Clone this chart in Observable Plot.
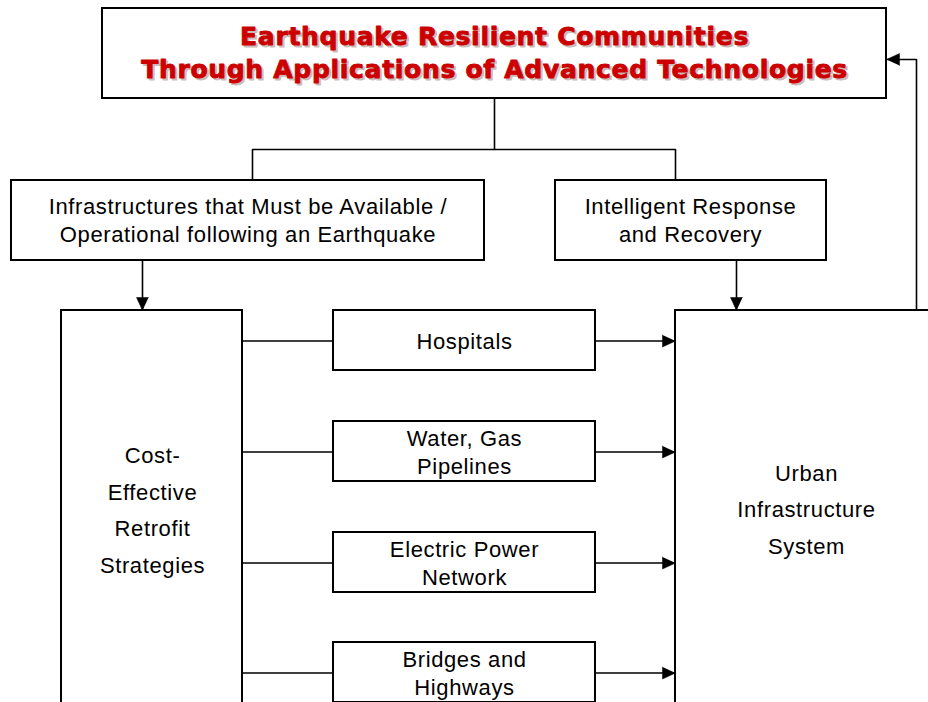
<!DOCTYPE html>
<html>
<head>
<meta charset="utf-8">
<script src="https://cdn.jsdelivr.net/npm/d3@7"></script>
<script src="https://cdn.jsdelivr.net/npm/@observablehq/plot@0.6"></script>
<style>
  html, body { margin: 0; padding: 0; background: #fff; }
  #chart svg { display: block; }
</style>
</head>
<body>
<div id="chart"></div>
<script>
// ---- content ----
const titleText = "Earthquake Resilient Communities\nThrough Applications of Advanced Technologies";
const branchLabels = ["Infrastructures that Must be Available /\nOperational following an Earthquake", "Intelligent Response\nand Recovery"];
const retrofitLabel = "Cost-\nEffective\nRetrofit\nStrategies";
const systemLabel = "Urban\nInfrastructure\nSystem";
const infraLabels = ["Hospitals", "Water, Gas\nPipelines", "Electric Power\nNetwork", "Bridges and\nHighways"];

// ---- layout (pixel grid of the diagram) ----
const W = 928, H = 702;
const titleBox = {x1: 102, x2: 886, y1: 8, y2: 98};
const branchBoxes = [{x1: 11, x2: 484, y1: 180, y2: 260}, {x1: 555, x2: 826, y1: 180, y2: 260}];
const leftBox = {x1: 61, x2: 242, y1: 310, y2: 712};
const rightBox = {x1: 675, x2: 945, y1: 310, y2: 712};
const midX1 = 333, midX2 = 595;
const rowTop = [310, 421, 532, 642], rowH = 60;

const boxes = [
  titleBox,
  ...branchBoxes,
  leftBox,
  rightBox,
  ...rowTop.map(t => ({x1: midX1, x2: midX2, y1: t, y2: t + rowH}))
];

const rowMid = rowTop.map(t => t + rowH / 2 + 0.5);
const cx = b => (b.x1 + b.x2) / 2;
const cy = b => (b.y1 + b.y2) / 2;

const shortLabels = [
  {x: cx(branchBoxes[0]), y: 219, text: branchLabels[0]},
  {x: 690, y: 219, text: branchLabels[1]},
  ...infraLabels.map((t, i) => ({x: cx({x1: midX1, x2: midX2}), y: rowMid[i] - 1, text: t}))
];
const tallLabels = [
  {x: 152, y: 506, text: retrofitLabel},
  {x: 806, y: 505, text: systemLabel}
];

// connector polylines (no heads)
const junctionY = 149;
const plainPaths = [
  [[cx(titleBox), titleBox.y2], [cx(titleBox), junctionY]],
  [[252, branchBoxes[0].y1], [252, junctionY], [675, junctionY], [675, branchBoxes[1].y1]],
  ...rowMid.map(y => [[leftBox.x2, y], [midX1, y]])
];

// arrows: polyline ending at tip
const arrowPaths = [
  [[142, branchBoxes[0].y2], [142, leftBox.y1]],
  [[736, branchBoxes[1].y2], [736, rightBox.y1]],
  ...rowMid.map(y => [[midX2, y], [rightBox.x1, y]]),
  [[916, rightBox.y1], [916, 59], [titleBox.x2, 59]]
];

const segs = [];
[...plainPaths, ...arrowPaths].forEach((p, k) => p.forEach(([x, y]) => segs.push({x, y, k})));

// arrowheads: filled triangles computed from the last segment's direction
const headLen = 13, headHalf = 6;
const heads = [];
arrowPaths.forEach((p, k) => {
  const [x0, y0] = p[p.length - 2], [x1, y1] = p[p.length - 1];
  const L = Math.hypot(x1 - x0, y1 - y0), ux = (x1 - x0) / L, uy = (y1 - y0) / L;
  const bx = x1 - ux * headLen, by = y1 - uy * headLen;
  heads.push({x: x1, y: y1, k}, {x: bx - uy * headHalf, y: by + ux * headHalf, k}, {x: bx + uy * headHalf, y: by - ux * headHalf, k});
});

const font = "'Liberation Sans', Arial, sans-serif";
const titleFont = "'DejaVu Sans', sans-serif";
const bodyOpts = {x: "x", y: "y", text: "text", fill: "#000", fontSize: 22, fontFamily: font, textAnchor: "middle", lineAnchor: "middle"};
const titleOpts = {x: "x", y: "y", text: () => titleText, fontSize: 25, fontWeight: "bold", fontFamily: titleFont,
  lineHeight: 1.32, textAnchor: "middle", lineAnchor: "middle"};
const titleAt = [{x: cx(titleBox), y: cy(titleBox) - 2.5}];

const chart = Plot.plot({
  width: W,
  height: H,
  margin: 0,
  x: {domain: [0, W], range: [0, W], axis: null},
  y: {domain: [0, H], range: [0, H], axis: null},
  style: {background: "#fff"},
  marks: [
    Plot.line(segs, {x: "x", y: "y", z: "k", stroke: "#000", strokeWidth: 1.6, strokeLinejoin: "miter", curve: "linear"}),
    Plot.rect(boxes, {x1: "x1", x2: "x2", y1: "y1", y2: "y2", fill: "#fff", stroke: "#000", strokeWidth: 2, inset: 0}),
    Plot.line(heads, {x: "x", y: "y", z: "k", fill: "#000", stroke: "#000", strokeWidth: 0.5}),
    Plot.text(titleAt, {...titleOpts, dx: 2, dy: 2, fill: "#cbbcbc", stroke: "#cbbcbc", strokeWidth: 0.9}),
    Plot.text(titleAt, {...titleOpts, fill: "#cc0000", stroke: "#cc0000", strokeWidth: 0.9}),
    Plot.text(shortLabels, {...bodyOpts, lineHeight: 1.27}),
    Plot.text(tallLabels, {...bodyOpts, lineHeight: 1.66})
  ]
});
// text groups are the last four mark groups: title shadow, title, short labels, tall labels
const groups = Array.from(chart.querySelectorAll(":scope > g"));
const textGroups = groups.slice(-4);
[textGroups[0], textGroups[1]].forEach(g => g.querySelectorAll("text, tspan").forEach(t => t.setAttribute("letter-spacing", "0.7")));
[textGroups[2], textGroups[3]].forEach(g => g.querySelectorAll("text, tspan").forEach(t => t.setAttribute("letter-spacing", "0.62")));
document.getElementById("chart").appendChild(chart);
</script>
</body>
</html>
